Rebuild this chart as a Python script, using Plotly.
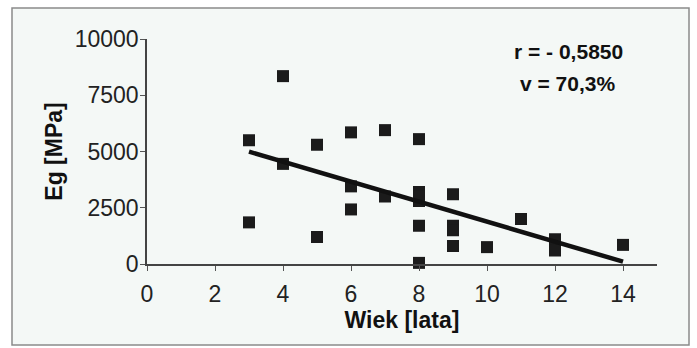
import numpy as np
import plotly.graph_objects as go

# Data
wiek = [3, 3, 4, 4, 5, 5, 6, 6, 6, 7, 7, 8, 8, 8, 8, 8, 8, 9, 9, 9, 9, 10, 11, 12, 12, 14]
eg = [5500, 1850, 8350, 4450, 5300, 1200, 5850, 3450, 2425, 5950, 3000,
      5550, 3200, 3000, 2800, 1700, 50, 3100, 1700, 1500, 800, 750, 2000, 1100, 600, 850]
x_ticks = [0, 2, 4, 6, 8, 10, 12, 14]
y_ticks = [0, 2500, 5000, 7500, 10000]
stats_text = ["r = - 0,5850", "v = 70,3%"]

# Linear trend line (least squares) through the data
slope, intercept = np.polyfit(wiek, eg, 1)
trend_x = [min(wiek), max(wiek)]
trend_y = [slope * v + intercept for v in trend_x]

FONT = "Liberation Sans, Arial, sans-serif"

fig = go.Figure()
fig.add_trace(go.Scatter(
    x=wiek, y=eg, mode="markers",
    marker=dict(symbol="square", size=12, color="#1b1b1b", line=dict(width=0)),
    cliponaxis=False, showlegend=False,
))
fig.add_trace(go.Scatter(
    x=trend_x, y=trend_y, mode="lines",
    line=dict(color="#111111", width=4.5),
    cliponaxis=False, showlegend=False,
))

L, R, T, B = 147, 40, 39, 84
W, H = 697, 348
pw, ph = W - L - R, H - T - B

def px_to_paper_x(px):
    return (px - L) / pw

def px_to_paper_y(py):
    return (H - B - py) / ph

# outer framed panel
fig.add_shape(type="rect", xref="paper", yref="paper",
              x0=px_to_paper_x(12), x1=px_to_paper_x(689),
              y0=px_to_paper_y(345), y1=px_to_paper_y(8),
              line=dict(color="#8a8a8a", width=1.5),
              fillcolor="#f4f8f6", layer="below")

fig.add_annotation(x=px_to_paper_x(568), y=px_to_paper_y(51), xref="paper", yref="paper",
                   xanchor="center", yanchor="middle",
                   text="<b>%s</b>" % stats_text[0], showarrow=False,
                   font=dict(family=FONT, size=21, color="#111111"))
fig.add_annotation(x=px_to_paper_x(567), y=px_to_paper_y(83), xref="paper", yref="paper",
                   xanchor="center", yanchor="middle",
                   text="<b>%s</b>" % stats_text[1], showarrow=False,
                   font=dict(family=FONT, size=21, color="#111111"))

fig.update_layout(
    width=W, height=H,
    margin=dict(l=L, r=R, t=T, b=B),
    paper_bgcolor="white",
    plot_bgcolor="rgba(0,0,0,0)",
    font=dict(family=FONT, size=23, color="#222222"),
    xaxis=dict(
        range=[0, 15], tickvals=x_ticks, ticktext=[str(v) for v in x_ticks],
        showgrid=False, zeroline=False,
        showline=True, linecolor="#444444", linewidth=1.5,
        ticks="outside", ticklen=5, tickcolor="#555555", tickwidth=1.2,
        ticklabelstandoff=4,
        title=dict(text="<b>Wiek [lata]</b>", font=dict(family=FONT, size=23, color="#111111"),
                   standoff=0),
    ),
    yaxis=dict(
        range=[0, 10000], tickvals=y_ticks, ticktext=[str(v) for v in y_ticks],
        showgrid=False, zeroline=False,
        showline=True, linecolor="#444444", linewidth=1.5,
        ticks="outside", ticklen=5, tickcolor="#555555", tickwidth=1.2,
        ticklabelstandoff=-3,
        title=dict(text="<b>Eg [MPa]</b>", font=dict(family=FONT, size=23, color="#111111"),
                   standoff=6),
    ),
)

fig.write_html("out.html")
